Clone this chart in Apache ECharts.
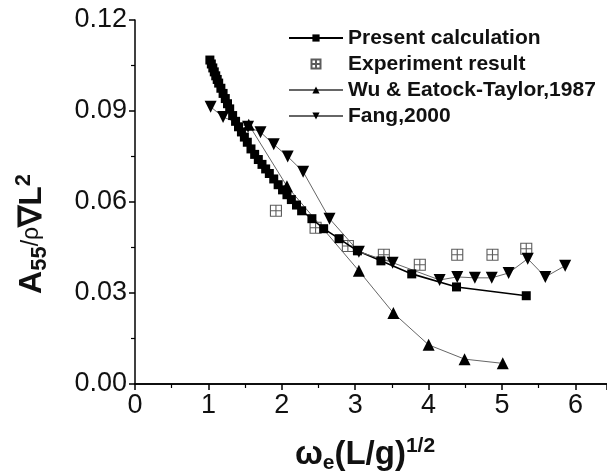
<!DOCTYPE html>
<html>
<head>
<meta charset="utf-8">
<script src="https://cdn.jsdelivr.net/npm/echarts@6/dist/echarts.min.js"></script>
<style>
html,body{margin:0;padding:0;background:#fff;}
#c{width:607px;height:472px;}
</style>
</head>
<body>
<div id="c"></div>
<script>
const xTicks = ['0','1','2','3','4','5','6'];
const yTicks = ['0.00','0.03','0.06','0.09','0.12'];

const presentX = [1.02,1.04,1.06,1.08,1.10,1.12,1.14,1.17,1.20,1.23,1.26,1.29,1.33,1.37,1.41,1.45,1.49,1.53,1.58,1.63,1.68,1.73,1.78,1.83,1.89,1.95,2.01,2.07,2.13,2.20,2.27,2.41,2.57,2.78,3.03,3.35,3.77,4.38,5.33];
const presentY = [0.1068,0.1055,0.1042,0.1029,0.1016,0.1004,0.0992,0.0975,0.0958,0.0941,0.0924,0.0907,0.0885,0.0866,0.0848,0.0831,0.0814,0.0797,0.0775,0.0757,0.0740,0.0724,0.0709,0.0694,0.0676,0.0657,0.0640,0.0624,0.0608,0.0590,0.0571,0.0545,0.0512,0.0479,0.0439,0.0406,0.0363,0.0320,0.0291];

const expX = [1.92,2.46,2.90,3.39,3.88,4.39,4.87,5.33];
const expY = [0.0571,0.0515,0.0455,0.0426,0.0393,0.0426,0.0426,0.0446];

const wuX = [1.55,2.07,3.05,3.52,4.00,4.49,5.01];
const wuY = [0.0855,0.0652,0.0373,0.0234,0.0129,0.0082,0.0068];

const fangX = [1.03,1.20,1.54,1.71,1.89,2.08,2.29,2.65,3.05,3.51,4.15,4.39,4.63,4.86,5.09,5.35,5.59,5.86];
const fangY = [0.0914,0.0880,0.0848,0.0830,0.0790,0.0750,0.0700,0.0545,0.0436,0.0400,0.0343,0.0353,0.0350,0.0350,0.0366,0.0413,0.0353,0.0390];

const names = ['Present calculation','Experiment result','Wu & Eatock-Taylor,1987','Fang,2000'];

function zip(a,b){return a.map((v,i)=>[v,b[i]]);}

const FONT = 'Liberation Sans, Arial, sans-serif';
const boxCross = 'path://M0,0H10V10H0ZM5,0V10M0,5H10';

const chart = echarts.init(document.getElementById('c'), null, {renderer:'canvas'});
chart.setOption({
  backgroundColor:'#ffffff',
  animation:false,
  grid:{left:135,right:0,top:20,bottom:88,containLabel:false,outerBoundsMode:'none'},
  legend:{
    left:283, top:20, orient:'vertical',
    itemWidth:54, itemHeight:9, itemGap:0,
    textStyle:{fontFamily:FONT,fontSize:21,fontWeight:'bold',color:'#111',lineHeight:26},
    data:names
  },
  xAxis:[{
    type:'value', min:0, max:6.43, interval:1,
    axisLine:{show:true,onZero:false,lineStyle:{color:'#000',width:1.5}},
    axisTick:{show:true,inside:false,length:6,lineStyle:{color:'#000',width:1.5}},
    minorTick:{show:true,splitNumber:2,length:4,lineStyle:{color:'#000',width:1.2}},
    splitLine:{show:false},
    axisLabel:{margin:8,fontFamily:FONT,fontSize:27,color:'#111',showMaxLabel:false,
      formatter:function(v){const i=Math.round(v);return Math.abs(v-i)<1e-6&&i<xTicks.length?xTicks[i]:'';}},
    name:'{w|ω}{sub|e}{n|(L/g)}{sup|1/2}',
    nameLocation:'middle', nameGap:52,
    nameTextStyle:{
      padding:[0,12,0,0],
      rich:{
        w:{fontFamily:FONT,fontSize:33,fontWeight:'bold',color:'#111',lineHeight:38},
        n:{fontFamily:FONT,fontSize:33,fontWeight:'bold',color:'#111',lineHeight:38},
        sub:{fontFamily:FONT,fontSize:21,fontWeight:'bold',color:'#111',lineHeight:19,verticalAlign:'bottom'},
        sup:{fontFamily:FONT,fontSize:21,fontWeight:'bold',color:'#111',lineHeight:20,verticalAlign:'top'}
      }
    }
  },{
    type:'value', position:'top', min:0, max:6.43,
    axisLine:{show:true,lineStyle:{color:'#000',width:1.5}},
    axisTick:{show:false}, axisLabel:{show:false}, splitLine:{show:false}
  }],
  yAxis:{
    type:'value', min:0, max:0.12, interval:0.03,
    axisLine:{show:true,onZero:false,lineStyle:{color:'#000',width:1.5}},
    axisTick:{show:true,length:6,lineStyle:{color:'#000',width:1.5}},
    minorTick:{show:true,splitNumber:2,length:4,lineStyle:{color:'#000',width:1.2}},
    splitLine:{show:false},
    axisLabel:{margin:8,fontFamily:FONT,fontSize:27,color:'#111',
      formatter:function(v){const i=Math.round(v/0.03);return yTicks[i]||'';}},
    name:'{a|A}{sub|55}{r|/ρ}{a|∇L}{sup|2}',
    nameLocation:'middle', nameRotate:90, nameGap:84,
    nameTextStyle:{
      padding:[0,64,0,0],
      rich:{
        a:{fontFamily:FONT,fontSize:32,fontWeight:'bold',color:'#111',lineHeight:38},
        r:{fontFamily:FONT,fontSize:23,color:'#111',lineHeight:38},
        sub:{fontFamily:FONT,fontSize:22,fontWeight:'bold',color:'#111',lineHeight:19,verticalAlign:'bottom'},
        sup:{fontFamily:FONT,fontSize:22,fontWeight:'bold',color:'#111',lineHeight:20,verticalAlign:'top'}
      }
    }
  },
  series:[
    {name:names[0],type:'line',data:zip(presentX,presentY),symbol:'rect',symbolSize:9,showAllSymbol:true,
     itemStyle:{color:'#000'},lineStyle:{color:'#000',width:1.6}},
    {name:names[1],type:'scatter',data:zip(expX,expY),symbol:boxCross,symbolSize:11,
     itemStyle:{color:'rgba(0,0,0,0)',borderColor:'#333',borderWidth:1.1}},
    {name:names[2],type:'line',data:zip(wuX,wuY),symbol:'triangle',symbolSize:12,showAllSymbol:true,
     itemStyle:{color:'#000'},lineStyle:{color:'#666',width:1}},
    {name:names[3],type:'line',data:zip(fangX,fangY),symbol:'triangle',symbolRotate:180,symbolSize:12,showAllSymbol:true,
     itemStyle:{color:'#000'},lineStyle:{color:'#666',width:1}}
  ]
});
</script>
</body>
</html>
